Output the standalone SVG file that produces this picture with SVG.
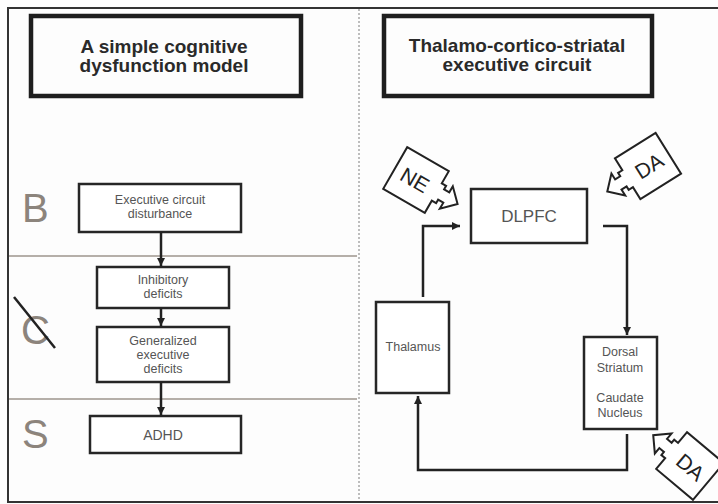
<svg xmlns="http://www.w3.org/2000/svg" xmlns:xlink="http://www.w3.org/1999/xlink" width="718" height="504" viewBox="0 0 718 504">
<style>
  text { font-family: "Liberation Sans", Arial, sans-serif; }
  .title { fill: none; stroke: #1e1e1e; stroke-width: 4.5; }
  .ttext { font-size: 19px; font-weight: bold; fill: #2a2a2a; text-anchor: middle; }
  .box { fill: #fff; stroke: #262626; stroke-width: 2.5; }
  .small { font-size: 12.5px; fill: #555; text-anchor: middle; }
  .big { font-size: 40px; fill: #8c847c; }
  .conn { fill: none; stroke: #222; stroke-width: 2.5; }
  .sep { stroke: #9d958d; stroke-width: 1.5; }
  .piece { fill: #fff; stroke: #222; stroke-width: 2; stroke-linejoin: miter; }
  .ptext { font-size: 21px; fill: #222; text-anchor: middle; }
</style>
<defs>
  <marker id="ah" markerUnits="userSpaceOnUse" markerWidth="10" markerHeight="10" refX="8" refY="4" orient="auto">
    <path d="M0,0 L8,4 L0,8 Z" fill="#222"/>
  </marker>
  <path id="piece" d="M-24,-24 H24 V-10 H29 V-6 H35 V-13 L48,0 L35,13 V6 H29 V10 H24 V24 H-24 Z"/>
</defs>
<rect x="0" y="0" width="718" height="504" fill="#fdfdfd"/>
<rect x="8" y="8" width="720" height="494" fill="none" stroke="#333" stroke-width="2"/>
<line x1="359" y1="9" x2="359" y2="501" stroke="#a8a8a8" stroke-width="1.5" stroke-dasharray="2,2"/>
<line class="sep" x1="9" y1="256" x2="357" y2="256"/>
<line class="sep" x1="9" y1="399" x2="357" y2="399"/>

<g id="title-left">
  <rect class="title" x="31" y="16" width="270" height="80"/>
  <text class="ttext" x="164" y="53">A simple cognitive</text>
  <text class="ttext" x="164" y="72">dysfunction model</text>
</g>
<g id="title-right">
  <rect class="title" x="384" y="16" width="268" height="80"/>
  <text class="ttext" x="517" y="52">Thalamo-cortico-striatal</text>
  <text class="ttext" x="517" y="71">executive circuit</text>
</g>

<g id="label-B"><text class="big" x="22" y="222">B</text></g>
<g id="label-C"><text class="big" x="21" y="344">C</text>
  <line x1="14" y1="297" x2="55" y2="348" stroke="#222" stroke-width="2.5"/></g>
<g id="label-S"><text class="big" x="22" y="448">S</text></g>

<g id="node-exec">
  <rect class="box" x="79" y="184" width="162" height="48"/>
  <text class="small" x="160" y="204">Executive circuit</text>
  <text class="small" x="160" y="218">disturbance</text>
</g>
<g id="node-inhib">
  <rect class="box" x="97" y="267" width="132" height="41"/>
  <text class="small" x="163" y="284">Inhibitory</text>
  <text class="small" x="163" y="298">deficits</text>
</g>
<g id="node-gen">
  <rect class="box" x="97" y="327" width="132" height="55"/>
  <text class="small" x="163" y="345">Generalized</text>
  <text class="small" x="163" y="359">executive</text>
  <text class="small" x="163" y="373">deficits</text>
</g>
<g id="node-adhd">
  <rect class="box" x="90" y="416" width="151" height="37"/>
  <text class="small" x="163" y="440" style="font-size:14px">ADHD</text>
</g>

<g id="node-dlpfc">
  <rect class="box" x="471" y="189" width="116" height="54"/>
  <text class="small" x="529" y="222" style="font-size:17px">DLPFC</text>
</g>
<g id="node-thalamus">
  <rect class="box" x="376" y="302" width="73" height="91"/>
  <text class="small" x="413" y="351">Thalamus</text>
</g>
<g id="node-striatum">
  <rect class="box" x="584" y="337" width="73" height="92"/>
  <text class="small" x="620" y="356">Dorsal</text>
  <text class="small" x="620" y="372">Striatum</text>
  <text class="small" x="620" y="402">Caudate</text>
  <text class="small" x="620" y="417">Nucleus</text>
</g>

<g id="piece-ne" transform="translate(416,180) rotate(30)">
  <use href="#piece" class="piece"/>
  <text class="ptext" x="-1" y="8">NE</text>
</g>
<g id="piece-da-top" transform="translate(648,166) rotate(-32)">
  <use href="#piece" class="piece" transform="scale(-1,1)"/>
  <text class="ptext" x="1" y="8">DA</text>
</g>
<g id="piece-da-bottom" transform="translate(690,466) rotate(40)">
  <use href="#piece" class="piece" transform="scale(-1,1)"/>
  <text class="ptext" x="1" y="8">DA</text>
</g>

<g id="connectors">
  <line class="conn" x1="161" y1="232" x2="161" y2="266" marker-end="url(#ah)"/>
  <line class="conn" x1="161" y1="308" x2="161" y2="326" marker-end="url(#ah)"/>
  <line class="conn" x1="161" y1="382" x2="161" y2="415" marker-end="url(#ah)"/>
  <path class="conn" d="M423,297 V226 H460" marker-end="url(#ah)"/>
  <path class="conn" d="M603,226 H627 V335" marker-end="url(#ah)"/>
  <path class="conn" d="M627,434 V470 H418 V396" marker-end="url(#ah)"/>
</g>
</svg>
